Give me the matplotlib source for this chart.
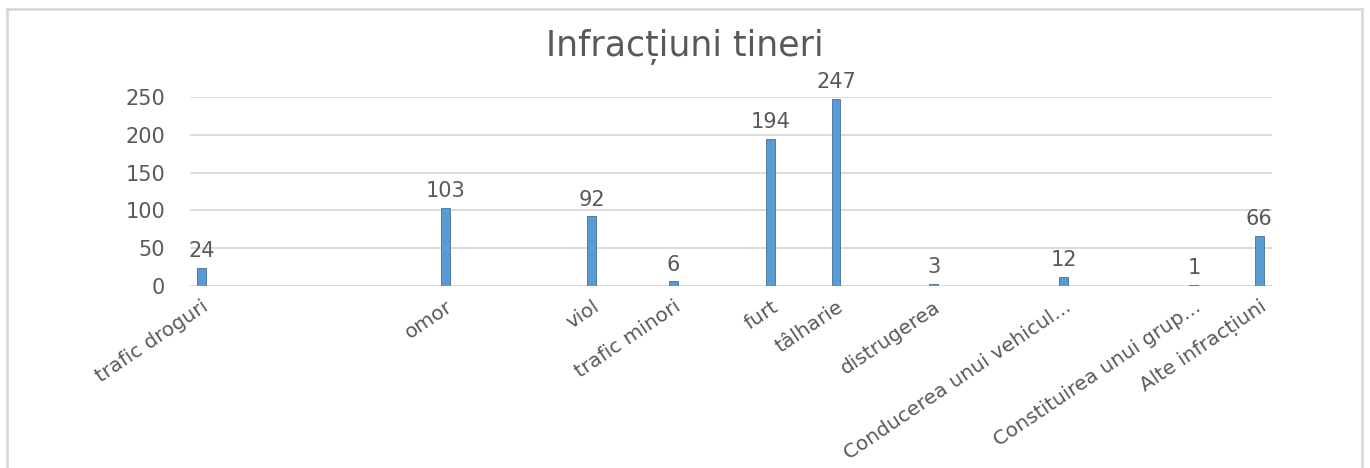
import matplotlib.pyplot as plt
from matplotlib.lines import Line2D

plt.rcParams['font.family'] = ['DejaVu Sans']

# categories, their slot index on the (mostly empty) category axis, and counts
categories = ['trafic droguri', 'omor', 'viol', 'trafic minori', 'furt', 'tâlharie',
              'distrugerea', 'Conducerea unui vehicul...', 'Constituirea unui grup...',
              'Alte infracțiuni']
slots = [0, 15, 24, 29, 35, 39, 45, 53, 61, 65]
values = [24, 103, 92, 6, 194, 247, 3, 12, 1, 66]
yticks = [0, 50, 100, 150, 200, 250]

grey = '#595959'
blue = '#5B9BD5'

fig = plt.figure(figsize=(13.7, 4.68), dpi=100)
ax = fig.add_axes([0.1387, 0.3889, 0.7898, 0.4038])

ax.bar(slots, values, width=0.55, color=blue, edgecolor='#41719C', linewidth=0.6, zorder=3)
for x, v in zip(slots, values):
    ax.annotate(str(v), (x, v), xytext=(0, 5), textcoords='offset points',
                ha='center', va='bottom', fontsize=15, color=grey)

ax.set_ylim(0, 250)
ax.set_xlim(-0.7, 65.8)
ax.set_yticks(yticks)
ax.yaxis.grid(True, color='#d9d9d9', linewidth=1.3)
ax.set_axisbelow(True)
ax.tick_params(axis='y', length=0, pad=18, labelsize=15, labelcolor=grey)
ax.tick_params(axis='x', length=0, pad=8, labelsize=14.5, labelcolor=grey)
ax.set_xticks(slots)
ax.set_xticklabels(categories, rotation=34, ha='right', rotation_mode='anchor')
for s in ax.spines.values():
    s.set_visible(False)

fig.text(0.5, 1 - 56 / 468, 'Infracțiuni tineri', fontsize=25, color=grey,
         ha='center', va='baseline')

# chart frame
for xs, ys in [([0.005, 0.005], [0.0, 0.981]), ([0.005, 0.994], [0.981, 0.981]), ([0.994, 0.994], [0.0, 0.981])]:
    fig.add_artist(Line2D(xs, ys, transform=fig.transFigure, color='#d9d9d9', linewidth=2))

plt.savefig('out.png', dpi=100)
